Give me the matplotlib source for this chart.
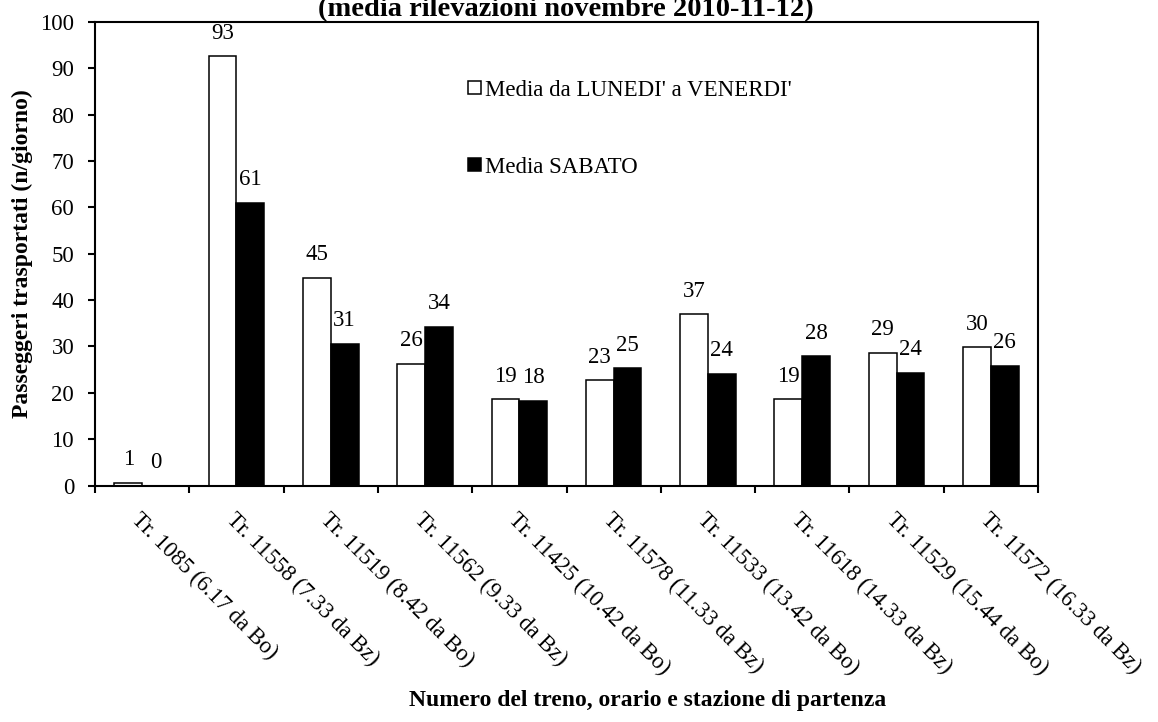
import numpy as np
import matplotlib.pyplot as plt
from matplotlib.patches import Patch

plt.rcParams['font.family'] = ['Liberation Serif', 'DejaVu Serif']

# dati
treni = ["Tr. 1085 (6.17 da Bo)", "Tr. 11558 (7.33 da Bz)", "Tr. 11519 (8.42 da Bo)",
         "Tr. 11562 (9.33 da Bz)", "Tr. 11425 (10.42 da Bo)", "Tr. 11578 (11.33 da Bz)",
         "Tr. 11533 (13.42 da Bo)", "Tr. 11618 (14.33 da Bz)", "Tr. 11529 (15.44 da Bo)",
         "Tr. 11572 (16.33 da Bz)"]
media_lun_ven = [0.6, 92.6, 44.8, 26.3, 18.6, 22.7, 36.9, 18.6, 28.6, 29.8]
media_sabato = [0.0, 61.0, 30.6, 34.3, 18.3, 25.3, 24.1, 27.9, 24.3, 25.8]
etichette = ["Media da LUNEDI' a VENERDI'", "Media SABATO"]

fs = 16.5

fig = plt.figure(figsize=(11.58, 7.22), dpi=100)
ax = fig.add_axes([95 / 1158, 1 - 485.5 / 722, 943 / 1158, 463.5 / 722])

x = np.arange(len(treni))
w = 0.295
b1 = ax.bar(x - w / 2, media_lun_ven, w, color='white', edgecolor='black', linewidth=1.1)
b2 = ax.bar(x + w / 2, media_sabato, w, color='black', edgecolor='black', linewidth=1.1)

# etichette dei valori sopra le barre
for bars, vals in [(b1, media_lun_ven), (b2, media_sabato)]:
    for bar, v in zip(bars, vals):
        ax.annotate(f"{v:.0f}", (bar.get_x() + bar.get_width() / 2, v),
                    xytext=(0, 12.7), textcoords='offset points',
                    ha='center', va='baseline', fontsize=fs)

ax.set_xlim(-0.5, len(treni) - 0.5)
ax.set_ylim(0, 100)
ax.set_yticks(np.arange(0, 101, 10))
ax.set_xticks(np.arange(len(treni) + 1) - 0.5)
ax.set_xticklabels([])
ax.set_xticks(x, treni, minor=True)
ax.tick_params(axis='x', which='minor', length=0, pad=17)
ax.tick_params(axis='x', which='major', length=5, width=1.5, direction='out')
ax.tick_params(axis='y', length=5, width=1.5, direction='out', pad=10, labelsize=fs)
for lab in ax.get_xticklabels(minor=True):
    lab.set_rotation(-45)
    lab.set_ha('left')
    lab.set_va('top')
    lab.set_rotation_mode('anchor')
    lab.set_fontsize(fs)
for s in ax.spines.values():
    s.set_linewidth(1.5)

handles = [Patch(facecolor='white', edgecolor='black', linewidth=1.1),
           Patch(facecolor='black', edgecolor='black', linewidth=1.1)]
ax.legend(handles, etichette, loc='upper left', bbox_to_anchor=(0.396, 0.875),
          frameon=False, borderpad=0, borderaxespad=0, fontsize=fs,
          handlelength=0.57, handleheight=0.51, handletextpad=0.15, labelspacing=2.43)

fig.text(566 / 1158, 1 - 16 / 722, "(media rilevazioni novembre 2010-11-12)",
         ha='center', va='baseline', fontsize=20.5, fontweight='bold')
fig.text(648 / 1158, 16 / 722, "Numero del treno, orario e stazione di partenza",
         ha='center', va='baseline', fontsize=17, fontweight='bold')
fig.text(22 / 1158, 1 - 254 / 722, "Passeggeri trasportati (n/giorno)",
         ha='center', va='center', rotation=90, fontsize=17, fontweight='bold')

plt.savefig("out.png", dpi=100)
plt.close()
